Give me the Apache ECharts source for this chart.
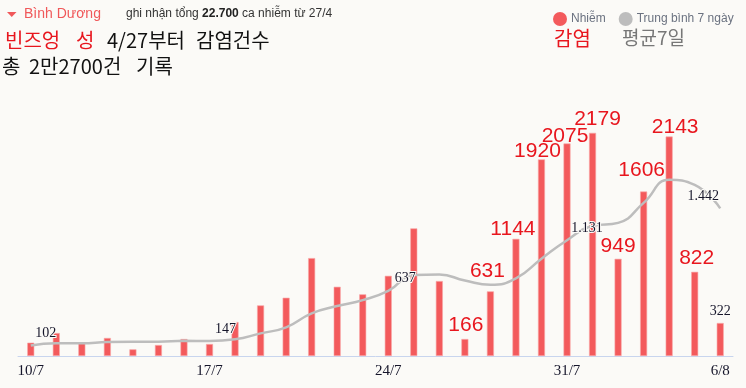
<!DOCTYPE html>
<html><head><meta charset="utf-8">
<script src="https://cdn.jsdelivr.net/npm/echarts@6/dist/echarts.min.js"></script>
<style>html,body{margin:0;padding:0;background:#fbfaf7}#c{width:746px;height:388px}</style>
</head><body><div id="c"></div>
<script>
// ---- data ----
const categories = ['10/7','11/7','12/7','13/7','14/7','15/7','16/7','17/7','18/7','19/7','20/7','21/7','22/7','23/7','24/7','25/7','26/7','27/7','28/7','29/7','30/7','31/7','1/8','2/8','3/8','4/8','5/8','6/8'];
const cases = [130,224,124,176,65,107,166,117,332,494,569,956,676,602,783,1246,732,166,631,1144,1920,2075,2179,949,1606,2143,822,322];
const avg7 = [102,124,124,137,140,140,148,147,163,221,280,416,488,546,637,790,795,737,695,758,950,1131,1270,1300,1495,1720,1670,1442];
const redLabelIdx = [17,18,19,20,21,22,23,24,25,26];
const blackBarLabelIdx = [27];
const avgLabelIdx = [0,7,14,21,27];
const tickIdx = [0,7,14,21,27];

// ---- label placement (styling only) ----
const redOffsets = {17:[1,-4],18:[-3,-10],19:[-3,0],20:[-4,2],21:[-2,3],22:[5,-4],23:[0,-3],24:[-2,-11],25:[6,1],26:[2,-4]};
const avgOffsets = {0:[15,0],7:[16,0],14:[17,0],21:[20,0],27:[-17,0]};

const fmt = v => String(v).replace(/\B(?=(\d{3})+(?!\d))/g, '.');

const barData = cases.map((v,i) => {
  if (redLabelIdx.includes(i)) {
    return {value:v, label:{show:true, position:'top', distance:0, offset:redOffsets[i],
      color:'#e8161e', fontSize:21, lineHeight:20, fontFamily:'Liberation Sans, Arial, sans-serif'}};
  }
  if (blackBarLabelIdx.includes(i)) {
    return {value:v, label:{show:true, position:'top', distance:5,
      color:'#15152a', fontSize:14, fontFamily:'Liberation Serif, DejaVu Serif, serif'}};
  }
  return v;
});
const lineData = avg7.map((v,i) => {
  if (avgLabelIdx.includes(i)) {
    return {value:v, label:{show:true, position:'top', distance:5, offset:avgOffsets[i],
      formatter: p => fmt(p.value), color:'#15152a', fontSize:14,
      fontFamily:'Liberation Serif, DejaVu Serif, serif', textBorderColor:'#fbfaf7', textBorderWidth:2}};
  }
  return v;
});

const KR = 'Noto Sans CJK KR, sans-serif';
const krText = (x, y, t, fill, size) => ({type:'text', left:x, top:y, z:10,
  style:{text:t, fill:fill, fontSize:size||20, fontFamily:KR}});

const chart = echarts.init(document.getElementById('c'), null, {renderer:'canvas'});
chart.setOption({
  backgroundColor:'#fbfaf7',
  animation:false,
  grid:{left:18, right:13, top:100, bottom:32, containLabel:false},
  legend:{
    left:548, top:7, icon:'circle', itemWidth:14, itemHeight:14, itemGap:13,
    itemStyle:{borderWidth:0},
    textStyle:{color:'#6b7280', fontSize:12, fontFamily:'Liberation Sans, Arial, sans-serif', padding:[0,0,0,-1]},
    data:['Nhiễm','Trung bình 7 ngày']
  },
  xAxis:{
    type:'category', data:categories,
    axisLine:{lineStyle:{color:'#c8d5ee', width:1}},
    axisTick:{show:false},
    axisLabel:{interval:(i)=>tickIdx.includes(i), color:'#15152a', fontSize:15, margin:8,
      fontFamily:'Liberation Serif, DejaVu Serif, serif', showMaxLabel:true},
    splitLine:{show:false}
  },
  yAxis:{type:'value', min:0, max:2500, show:false, splitLine:{show:false}},
  series:[
    {name:'Nhiễm', type:'bar', data:barData, barWidth:7,
     itemStyle:{color:'#f35a5c', borderColor:'#f9a8a8', borderWidth:0.6}, z:2},
    {name:'Trung bình 7 ngày', type:'line', data:lineData, smooth:0.5, showSymbol:true, symbol:'circle', symbolSize:0,
     lineStyle:{color:'#bdbdbd', width:2.5}, itemStyle:{color:'#bdbdbd', borderWidth:0}, z:3}
  ],
  graphic:[
    {type:'polygon', shape:{points:[[7,12],[16.5,12],[11.75,17]]}, style:{fill:'#f0585a'}},
    {type:'text', left:24, top:7, style:{text:'Bình Dương', fill:'#f0585a', fontSize:14,
      fontFamily:'Liberation Sans, Arial, sans-serif'}},
    {type:'text', left:126, top:8, style:{
      text:'ghi nhận tổng {b|22.700} ca nhiễm từ 27/4', fill:'#333', fontSize:12,
      fontFamily:'Liberation Sans, Arial, sans-serif',
      rich:{b:{fontWeight:'bold', fontSize:12, fill:'#222', fontFamily:'Liberation Sans, Arial, sans-serif'}}}},
    krText(5, 30, '빈즈엉', '#e8161e'),
    krText(76, 30, '성', '#e8161e'),
    krText(107, 30, '4/27부터', '#111'),
    krText(196, 30, '감염건수', '#111'),
    krText(2, 56, '총', '#111'),
    krText(29, 56, '2만2700건', '#111'),
    krText(136, 56, '기록', '#111'),
    krText(554, 28, '감염', '#e8161e'),
    krText(622, 28, '평균7일', '#777', 19)
  ]
});
</script></body></html>
